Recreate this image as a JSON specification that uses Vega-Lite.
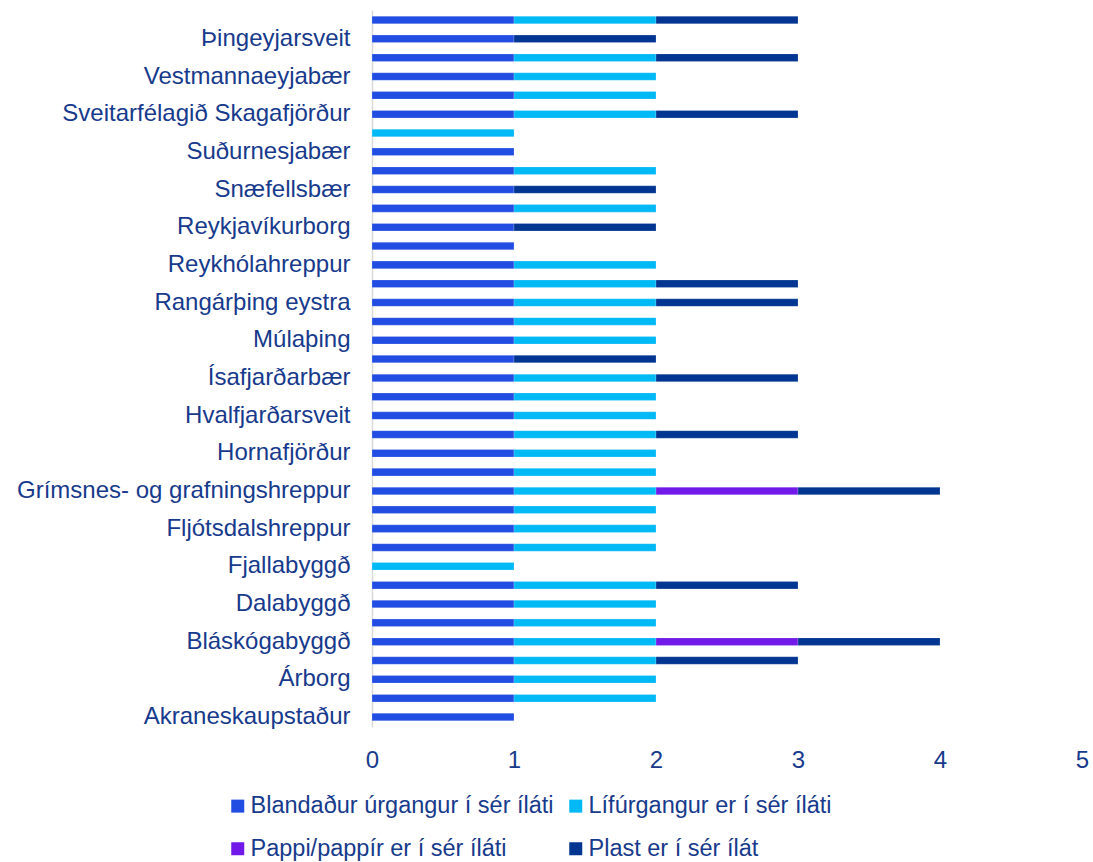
{
  "$schema": "https://vega.github.io/schema/vega-lite/v6.json",
  "autosize": "none",
  "width": 710,
  "height": 717,
  "padding": {"left": 372, "top": 10, "right": 11, "bottom": 135},
  "background": "white",
  "config": {
    "view": {"stroke": null},
    "font": "Liberation Sans",
    "axis": {"labelFont": "Liberation Sans", "labelColor": "#173A8C", "labelFontSize": 24, "grid": false, "ticks": false},
    "legend": {"labelFont": "Liberation Sans", "labelColor": "#173A8C", "labelFontSize": 23.5}
  },
  "data": {
    "values": [
      {"m": "Ölfus", "c": "Blandaður úrgangur í sér íláti", "v": 1},
      {"m": "Ölfus", "c": "Lífúrgangur er í sér íláti", "v": 1},
      {"m": "Ölfus", "c": "Plast er í sér ílát", "v": 1},
      {"m": "Þingeyjarsveit", "c": "Blandaður úrgangur í sér íláti", "v": 1},
      {"m": "Þingeyjarsveit", "c": "Plast er í sér ílát", "v": 1},
      {"m": "Vopnafjarðarhreppur", "c": "Blandaður úrgangur í sér íláti", "v": 1},
      {"m": "Vopnafjarðarhreppur", "c": "Lífúrgangur er í sér íláti", "v": 1},
      {"m": "Vopnafjarðarhreppur", "c": "Plast er í sér ílát", "v": 1},
      {"m": "Vestmannaeyjabær", "c": "Blandaður úrgangur í sér íláti", "v": 1},
      {"m": "Vestmannaeyjabær", "c": "Lífúrgangur er í sér íláti", "v": 1},
      {"m": "Tálknafjarðarhreppur", "c": "Blandaður úrgangur í sér íláti", "v": 1},
      {"m": "Tálknafjarðarhreppur", "c": "Lífúrgangur er í sér íláti", "v": 1},
      {"m": "Sveitarfélagið Skagafjörður", "c": "Blandaður úrgangur í sér íláti", "v": 1},
      {"m": "Sveitarfélagið Skagafjörður", "c": "Lífúrgangur er í sér íláti", "v": 1},
      {"m": "Sveitarfélagið Skagafjörður", "c": "Plast er í sér ílát", "v": 1},
      {"m": "Svalbarðsstrandarhreppur", "c": "Lífúrgangur er í sér íláti", "v": 1},
      {"m": "Suðurnesjabær", "c": "Blandaður úrgangur í sér íláti", "v": 1},
      {"m": "Stykkishólmsbær", "c": "Blandaður úrgangur í sér íláti", "v": 1},
      {"m": "Stykkishólmsbær", "c": "Lífúrgangur er í sér íláti", "v": 1},
      {"m": "Snæfellsbær", "c": "Blandaður úrgangur í sér íláti", "v": 1},
      {"m": "Snæfellsbær", "c": "Plast er í sér ílát", "v": 1},
      {"m": "Seltjarnarnesbær", "c": "Blandaður úrgangur í sér íláti", "v": 1},
      {"m": "Seltjarnarnesbær", "c": "Lífúrgangur er í sér íláti", "v": 1},
      {"m": "Reykjavíkurborg", "c": "Blandaður úrgangur í sér íláti", "v": 1},
      {"m": "Reykjavíkurborg", "c": "Plast er í sér ílát", "v": 1},
      {"m": "Reykjanesbær", "c": "Blandaður úrgangur í sér íláti", "v": 1},
      {"m": "Reykhólahreppur", "c": "Blandaður úrgangur í sér íláti", "v": 1},
      {"m": "Reykhólahreppur", "c": "Lífúrgangur er í sér íláti", "v": 1},
      {"m": "Rangárþing ytra", "c": "Blandaður úrgangur í sér íláti", "v": 1},
      {"m": "Rangárþing ytra", "c": "Lífúrgangur er í sér íláti", "v": 1},
      {"m": "Rangárþing ytra", "c": "Plast er í sér ílát", "v": 1},
      {"m": "Rangárþing eystra", "c": "Blandaður úrgangur í sér íláti", "v": 1},
      {"m": "Rangárþing eystra", "c": "Lífúrgangur er í sér íláti", "v": 1},
      {"m": "Rangárþing eystra", "c": "Plast er í sér ílát", "v": 1},
      {"m": "Mýrdalshreppur", "c": "Blandaður úrgangur í sér íláti", "v": 1},
      {"m": "Mýrdalshreppur", "c": "Lífúrgangur er í sér íláti", "v": 1},
      {"m": "Múlaþing", "c": "Blandaður úrgangur í sér íláti", "v": 1},
      {"m": "Múlaþing", "c": "Lífúrgangur er í sér íláti", "v": 1},
      {"m": "Kópavogsbær", "c": "Blandaður úrgangur í sér íláti", "v": 1},
      {"m": "Kópavogsbær", "c": "Plast er í sér ílát", "v": 1},
      {"m": "Ísafjarðarbær", "c": "Blandaður úrgangur í sér íláti", "v": 1},
      {"m": "Ísafjarðarbær", "c": "Lífúrgangur er í sér íláti", "v": 1},
      {"m": "Ísafjarðarbær", "c": "Plast er í sér ílát", "v": 1},
      {"m": "Hveragerðisbær", "c": "Blandaður úrgangur í sér íláti", "v": 1},
      {"m": "Hveragerðisbær", "c": "Lífúrgangur er í sér íláti", "v": 1},
      {"m": "Hvalfjarðarsveit", "c": "Blandaður úrgangur í sér íláti", "v": 1},
      {"m": "Hvalfjarðarsveit", "c": "Lífúrgangur er í sér íláti", "v": 1},
      {"m": "Húnaþing vestra", "c": "Blandaður úrgangur í sér íláti", "v": 1},
      {"m": "Húnaþing vestra", "c": "Lífúrgangur er í sér íláti", "v": 1},
      {"m": "Húnaþing vestra", "c": "Plast er í sér ílát", "v": 1},
      {"m": "Hornafjörður", "c": "Blandaður úrgangur í sér íláti", "v": 1},
      {"m": "Hornafjörður", "c": "Lífúrgangur er í sér íláti", "v": 1},
      {"m": "Hafnarfjarðarkaupstaður", "c": "Blandaður úrgangur í sér íláti", "v": 1},
      {"m": "Hafnarfjarðarkaupstaður", "c": "Lífúrgangur er í sér íláti", "v": 1},
      {"m": "Grímsnes- og grafningshreppur", "c": "Blandaður úrgangur í sér íláti", "v": 1},
      {"m": "Grímsnes- og grafningshreppur", "c": "Lífúrgangur er í sér íláti", "v": 1},
      {"m": "Grímsnes- og grafningshreppur", "c": "Pappi/pappír er í sér íláti", "v": 1},
      {"m": "Grímsnes- og grafningshreppur", "c": "Plast er í sér ílát", "v": 1},
      {"m": "Grindavíkurbær", "c": "Blandaður úrgangur í sér íláti", "v": 1},
      {"m": "Grindavíkurbær", "c": "Lífúrgangur er í sér íláti", "v": 1},
      {"m": "Fljótsdalshreppur", "c": "Blandaður úrgangur í sér íláti", "v": 1},
      {"m": "Fljótsdalshreppur", "c": "Lífúrgangur er í sér íláti", "v": 1},
      {"m": "Fjarðabyggð", "c": "Blandaður úrgangur í sér íláti", "v": 1},
      {"m": "Fjarðabyggð", "c": "Lífúrgangur er í sér íláti", "v": 1},
      {"m": "Fjallabyggð", "c": "Lífúrgangur er í sér íláti", "v": 1},
      {"m": "Dalvíkurbyggð", "c": "Blandaður úrgangur í sér íláti", "v": 1},
      {"m": "Dalvíkurbyggð", "c": "Lífúrgangur er í sér íláti", "v": 1},
      {"m": "Dalvíkurbyggð", "c": "Plast er í sér ílát", "v": 1},
      {"m": "Dalabyggð", "c": "Blandaður úrgangur í sér íláti", "v": 1},
      {"m": "Dalabyggð", "c": "Lífúrgangur er í sér íláti", "v": 1},
      {"m": "Borgarbyggð", "c": "Blandaður úrgangur í sér íláti", "v": 1},
      {"m": "Borgarbyggð", "c": "Lífúrgangur er í sér íláti", "v": 1},
      {"m": "Bláskógabyggð", "c": "Blandaður úrgangur í sér íláti", "v": 1},
      {"m": "Bláskógabyggð", "c": "Lífúrgangur er í sér íláti", "v": 1},
      {"m": "Bláskógabyggð", "c": "Pappi/pappír er í sér íláti", "v": 1},
      {"m": "Bláskógabyggð", "c": "Plast er í sér ílát", "v": 1},
      {"m": "Ásahreppur", "c": "Blandaður úrgangur í sér íláti", "v": 1},
      {"m": "Ásahreppur", "c": "Lífúrgangur er í sér íláti", "v": 1},
      {"m": "Ásahreppur", "c": "Plast er í sér ílát", "v": 1},
      {"m": "Árborg", "c": "Blandaður úrgangur í sér íláti", "v": 1},
      {"m": "Árborg", "c": "Lífúrgangur er í sér íláti", "v": 1},
      {"m": "Akureyrarbær", "c": "Blandaður úrgangur í sér íláti", "v": 1},
      {"m": "Akureyrarbær", "c": "Lífúrgangur er í sér íláti", "v": 1},
      {"m": "Akraneskaupstaður", "c": "Blandaður úrgangur í sér íláti", "v": 1}
    ]
  },
  "mark": {"type": "bar", "stroke": "white", "strokeOpacity": 0.4, "strokeWidth": 0.5},
  "encoding": {
    "y": {
      "field": "m",
      "type": "nominal",
      "title": null,
      "sort": ["Ölfus", "Þingeyjarsveit", "Vopnafjarðarhreppur", "Vestmannaeyjabær", "Tálknafjarðarhreppur", "Sveitarfélagið Skagafjörður", "Svalbarðsstrandarhreppur", "Suðurnesjabær", "Stykkishólmsbær", "Snæfellsbær", "Seltjarnarnesbær", "Reykjavíkurborg", "Reykjanesbær", "Reykhólahreppur", "Rangárþing ytra", "Rangárþing eystra", "Mýrdalshreppur", "Múlaþing", "Kópavogsbær", "Ísafjarðarbær", "Hveragerðisbær", "Hvalfjarðarsveit", "Húnaþing vestra", "Hornafjörður", "Hafnarfjarðarkaupstaður", "Grímsnes- og grafningshreppur", "Grindavíkurbær", "Fljótsdalshreppur", "Fjarðabyggð", "Fjallabyggð", "Dalvíkurbyggð", "Dalabyggð", "Borgarbyggð", "Bláskógabyggð", "Ásahreppur", "Árborg", "Akureyrarbær", "Akraneskaupstaður"],
      "scale": {"paddingInner": 0.6, "paddingOuter": 0.33},
      "axis": {
        "values": ["Þingeyjarsveit", "Vestmannaeyjabær", "Sveitarfélagið Skagafjörður", "Suðurnesjabær", "Snæfellsbær", "Reykjavíkurborg", "Reykhólahreppur", "Rangárþing eystra", "Múlaþing", "Ísafjarðarbær", "Hvalfjarðarsveit", "Hornafjörður", "Grímsnes- og grafningshreppur", "Fljótsdalshreppur", "Fjallabyggð", "Dalabyggð", "Bláskógabyggð", "Árborg", "Akraneskaupstaður"],
        "domainColor": "#D9D9D9",
        "domainWidth": 1.5,
        "labelPadding": 22,
        "labelLimit": 400
      }
    },
    "x": {
      "field": "v",
      "type": "quantitative",
      "aggregate": "sum",
      "stack": "zero",
      "title": null,
      "scale": {"domain": [0, 5], "nice": false},
      "axis": {"values": [0, 1, 2, 3, 4, 5], "domain": false, "labelPadding": 21, "labelFlush": false}
    },
    "color": {
      "field": "c",
      "type": "nominal",
      "title": null,
      "scale": {
        "domain": ["Blandaður úrgangur í sér íláti", "Lífúrgangur er í sér íláti", "Pappi/pappír er í sér íláti", "Plast er í sér ílát"],
        "range": ["#224DE2", "#00B9F5", "#7119E8", "#003591"]
      },
      "legend": {
        "orient": "none",
        "legendX": -146,
        "legendY": 784,
        "columns": 2,
        "direction": "horizontal",
        "symbolType": "square",
        "symbolSize": 169,
        "symbolStrokeWidth": 0,
        "labelOffset": 1,
        "columnPadding": 10,
        "rowPadding": 18,
        "padding": 0,
        "labelLimit": 400
      }
    }
  }
}
